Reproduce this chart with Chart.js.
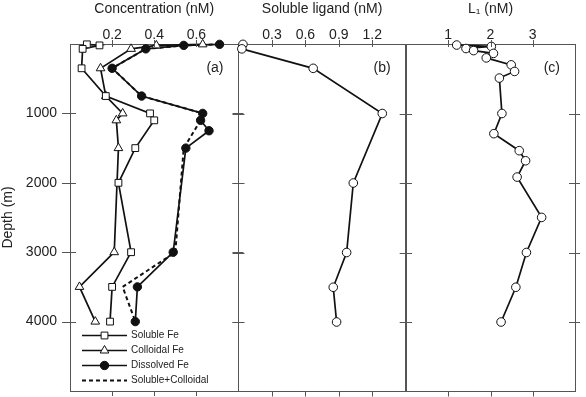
<!DOCTYPE html>
<html>
<head>
<meta charset="utf-8">
<script src="https://cdn.jsdelivr.net/npm/chart.js@4.4.0/dist/chart.umd.min.js"></script>
<style>
  html, body { margin: 0; padding: 0; background: #fff; }
  #wrap { position: relative; width: 586px; height: 397px; }
  #wrap canvas { position: absolute; left: 0; top: 0; }
</style>
</head>
<body>
<div id="wrap">
  <canvas id="panelA" width="586" height="397"></canvas>
  <canvas id="panelB" width="586" height="397"></canvas>
  <canvas id="panelC" width="586" height="397"></canvas>
</div>
<script>
// (a) iron fractions, nM
const solubleDepth = [5, 20, 70, 350, 750, 1000, 1100, 1500, 2000, 3000, 3500, 4000];
const solubleFe = [0.08, 0.14, 0.06, 0.055, 0.17, 0.38, 0.40, 0.31, 0.23, 0.29, 0.20, 0.19];
const colloidalDepth = [5, 20, 70, 350, 750, 1000, 1100, 1500, 3000, 3500, 4000];
const colloidalFe = [0.63, 0.41, 0.29, 0.145, 0.17, 0.25, 0.22, 0.23, 0.21, 0.045, 0.12];
const dissolvedDepth = [5, 20, 70, 350, 750, 1000, 1100, 1250, 1500, 3000, 3500, 4000];
const dissolvedFe = [0.71, 0.54, 0.36, 0.20, 0.34, 0.63, 0.62, 0.66, 0.55, 0.49, 0.32, 0.31];
const sumDepth = [5, 20, 70, 350, 750, 1000, 1100, 1500, 3000, 3500, 4000];
const solublePlusColloidal = [0.71, 0.55, 0.36, 0.20, 0.34, 0.63, 0.62, 0.54, 0.50, 0.25, 0.31];

// (b) soluble ligand, nM
const ligandDepth = [5, 70, 350, 1000, 2000, 3000, 3500, 4000];
const solubleLigand = [0.04, 0.03, 0.67, 1.29, 1.03, 0.97, 0.85, 0.88];

// (c) L1, nM
const l1Depth = [15, 35, 65, 95, 135, 200, 300, 395, 490, 1000, 1290, 1535, 1680, 1915, 2495, 3000, 3500, 4000];
const l1Values = [1.2, 2.02, 1.42, 1.6, 2.07, 1.9, 2.49, 2.57, 2.21, 2.27, 2.08, 2.68, 2.83, 2.63, 3.21, 2.85, 2.6, 2.25];

const depthTicks = [1000, 2000, 3000, 4000];
const concTicks = [0.2, 0.4, 0.6];
const ligandTicks = [0.3, 0.6, 0.9, 1.2];
const l1Ticks = [1, 2, 3];

const textColor = "#222";
const frameColor = "#555";
const lineColor = "#111";

Chart.defaults.font.family = '"Liberation Sans", Arial, Helvetica, sans-serif';
Chart.defaults.font.size = 14;
Chart.defaults.color = textColor;

function points(xs, depths) {
  return xs.map((v, i) => ({ x: v, y: depths[i] }));
}

function series(label, data, style) {
  return Object.assign({
    label,
    data,
    showLine: true,
    clip: false,
    borderColor: lineColor,
    borderWidth: 1.7,
    pointBorderColor: lineColor,
    pointBorderWidth: 1,
    pointBackgroundColor: "#fff",
    pointRadius: 4.5,
  }, style);
}

// fixed box sizes so the three panels line up, no label overhang padding
function fixBox(w, h) {
  return (s) => {
    if (w !== null) s.width = w;
    if (h !== null) s.height = h;
    s.paddingTop = 0;
    s.paddingBottom = 0;
    s.paddingLeft = 0;
    s.paddingRight = 0;
  };
}

// frame ticks that cross the borders, the (a)/(b)/(c) tag and the inset legend
const panelDecor = {
  id: "panelDecor",
  afterDraw(chart, args, opts) {
    const { ctx, chartArea: area } = chart;
    const xs = chart.scales.x;
    const ys = chart.scales.y;
    ctx.save();
    ctx.strokeStyle = frameColor;
    ctx.lineWidth = 1;
    ctx.beginPath();
    xs.ticks.forEach((t) => {
      const px = Math.round(xs.getPixelForValue(t.value)) + 0.5;
      ctx.moveTo(px, area.top - 4);
      ctx.lineTo(px, area.top + 3);
      ctx.moveTo(px, area.bottom);
      ctx.lineTo(px, area.bottom + 5);
    });
    ys.ticks.forEach((t) => {
      const py = Math.round(ys.getPixelForValue(t.value)) + 0.5;
      ctx.moveTo(area.left - (opts.outer ? 8 : 6), py);
      ctx.lineTo(area.left + 6, py);
      ctx.moveTo(area.right - 6, py);
      ctx.lineTo(area.right + 5, py);
    });
    ctx.stroke();

    ctx.fillStyle = textColor;
    ctx.font = '14px "Liberation Sans", Arial, sans-serif';
    ctx.textAlign = "right";
    ctx.textBaseline = "middle";
    ctx.fillText(opts.tag, area.right - 15, area.top + 24);

    if (opts.legend) {
      const x0 = area.left + 12;
      const x1 = x0 + 45;
      let y = area.bottom - 55.5;
      ctx.font = '10px "Liberation Sans", Arial, sans-serif';
      ctx.textAlign = "left";
      chart.data.datasets.forEach((ds) => {
        ctx.strokeStyle = ds.borderColor;
        ctx.lineWidth = ds.borderWidth;
        ctx.setLineDash(ds.borderDash || []);
        ctx.beginPath();
        ctx.moveTo(x0, y);
        ctx.lineTo(x1, y);
        ctx.stroke();
        ctx.setLineDash([]);
        if (ds.pointRadius > 0) {
          ctx.fillStyle = ds.pointBackgroundColor;
          ctx.strokeStyle = ds.pointBorderColor;
          ctx.lineWidth = ds.pointBorderWidth;
          Chart.helpers.drawPoint(ctx, {
            pointStyle: ds.pointStyle || "circle",
            radius: ds.pointRadius,
            rotation: 0,
            borderWidth: ds.pointBorderWidth,
          }, (x0 + x1) / 2, y);
        }
        ctx.fillStyle = textColor;
        ctx.fillText(ds.label, x1 + 4, y);
        y += 15;
      });
    }
    ctx.restore();
  },
};

function makePanel(canvasId, cfg) {
  const hiddenGrid = { drawOnChartArea: false, drawTicks: false };
  const frame = { color: frameColor, width: 1 };
  return new Chart(document.getElementById(canvasId), {
    type: "scatter",
    data: { datasets: cfg.datasets },
    options: {
      responsive: false,
      animation: false,
      events: [],
      layout: {
        padding: { left: cfg.depthAxis ? 0 : cfg.left, right: 586 - cfg.right, top: 0, bottom: 0 },
      },
      plugins: {
        legend: { display: false },
        tooltip: { enabled: false },
        panelDecor: { tag: cfg.tag, legend: !!cfg.legend, outer: !!cfg.depthAxis },
      },
      scales: {
        x: {
          type: "linear",
          position: "top",
          min: cfg.xMin,
          max: cfg.xMax,
          afterBuildTicks: (s) => { s.ticks = cfg.xTicks.map((v) => ({ value: v })); },
          afterFit: fixBox(null, 44),
          ticks: { padding: 0, color: textColor, callback: (v) => String(v) },
          grid: hiddenGrid,
          border: frame,
          title: {
            display: true,
            text: cfg.xTitle,
            color: textColor,
            padding: { top: 1, bottom: 0 },
          },
        },
        x2: {
          type: "linear",
          axis: "x",
          position: "bottom",
          min: cfg.xMin,
          max: cfg.xMax,
          afterFit: fixBox(null, 5.5),
          ticks: { display: false },
          grid: hiddenGrid,
          border: frame,
        },
        y: {
          type: "linear",
          position: "left",
          reverse: true,
          min: 0,
          max: 5000,
          afterBuildTicks: (s) => { s.ticks = depthTicks.map((v) => ({ value: v })); },
          afterFit: fixBox(cfg.depthAxis ? cfg.left : 0, null),
          ticks: { display: !!cfg.depthAxis, padding: 13, color: textColor, callback: (v) => String(v) },
          grid: hiddenGrid,
          border: frame,
          title: {
            display: !!cfg.depthAxis,
            text: "Depth (m)",
            color: textColor,
            padding: 0,
          },
        },
        y2: {
          type: "linear",
          axis: "y",
          position: "right",
          reverse: true,
          min: 0,
          max: 5000,
          afterFit: fixBox(0, null),
          ticks: { display: false },
          grid: hiddenGrid,
          border: frame,
        },
      },
    },
    plugins: [panelDecor],
  });
}

makePanel("panelA", {
  left: 70,
  right: 238.5,
  depthAxis: true,
  xMin: 0,
  xMax: 0.8,
  xTicks: concTicks,
  xTitle: "Concentration (nM)",
  tag: "(a)",
  legend: true,
  datasets: [
    series("Soluble Fe", points(solubleFe, solubleDepth), { pointStyle: "rect", pointRadius: 4.8 }),
    series("Colloidal Fe", points(colloidalFe, colloidalDepth), { pointStyle: "triangle", pointRadius: 5 }),
    series("Dissolved Fe", points(dissolvedFe, dissolvedDepth), { pointStyle: "circle", pointRadius: 4.2, pointBackgroundColor: lineColor }),
    series("Soluble+Colloidal", points(solublePlusColloidal, sumDepth), { borderWidth: 2, borderDash: [4, 3], pointRadius: 0 }),
  ],
});

makePanel("panelB", {
  left: 238.5,
  right: 405.7,
  xMin: 0,
  xMax: 1.5,
  xTicks: ligandTicks,
  xTitle: "Soluble ligand (nM)",
  tag: "(b)",
  datasets: [
    series("Soluble ligand", points(solubleLigand, ligandDepth), { pointRadius: 4.3 }),
  ],
});

makePanel("panelC", {
  left: 406,
  right: 575,
  xMin: 0,
  xMax: 4,
  xTicks: l1Ticks,
  xTitle: "L\u2081 (nM)",
  tag: "(c)",
  datasets: [
    series("L1", points(l1Values, l1Depth), { pointRadius: 4.3 }),
  ],
});
</script>
</body>
</html>
